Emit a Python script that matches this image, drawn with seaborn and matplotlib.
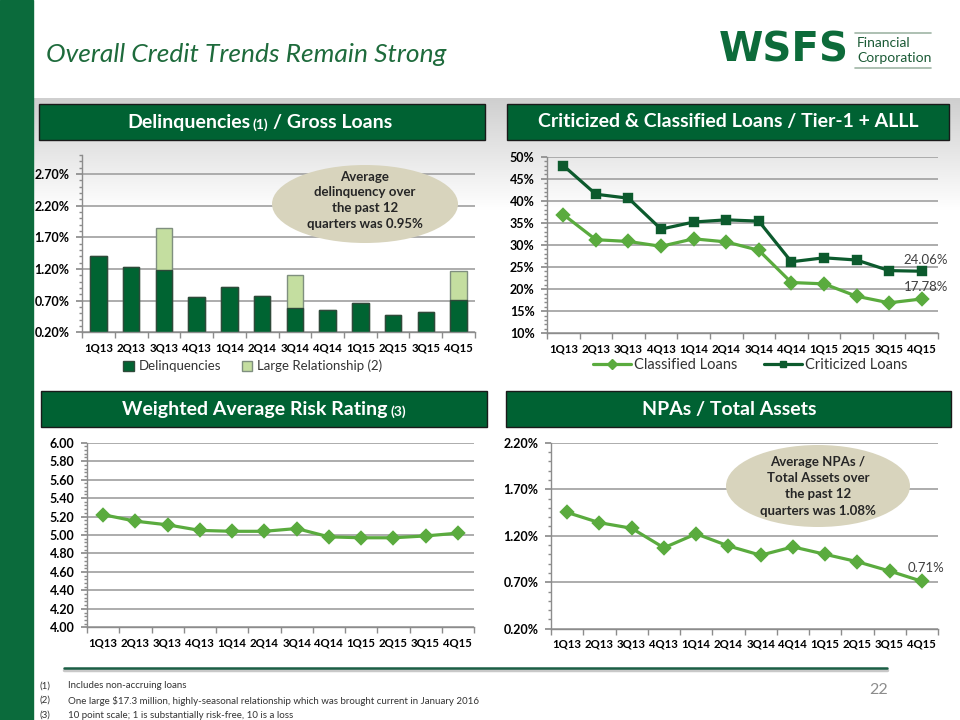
import numpy as np
import pandas as pd
import matplotlib.pyplot as plt
import seaborn as sns
from matplotlib.patches import Rectangle, Ellipse
from matplotlib.lines import Line2D
from matplotlib.ticker import FuncFormatter
from matplotlib.colors import LinearSegmentedColormap

# Dati
quarters = ["1Q13", "2Q13", "3Q13", "4Q13", "1Q14", "2Q14",
            "3Q14", "4Q14", "1Q15", "2Q15", "3Q15", "4Q15"]
delinquencies = [1.40, 1.23, 1.19, 0.76, 0.92, 0.77, 0.59, 0.55, 0.66, 0.48, 0.52, 0.71]
large_relationship = [0, 0, 0.66, 0, 0, 0, 0.51, 0, 0, 0, 0, 0.46]
classified = [36.9, 31.2, 30.8, 29.7, 31.4, 30.7, 28.8, 21.5, 21.2, 18.4, 16.9, 17.78]
criticized = [48.0, 41.5, 40.6, 33.6, 35.2, 35.7, 35.4, 26.2, 27.1, 26.6, 24.2, 24.06]
risk_rating = [5.22, 5.15, 5.11, 5.05, 5.04, 5.04, 5.07, 4.98, 4.97, 4.97, 4.99, 5.02]
npas = [1.45, 1.34, 1.28, 1.07, 1.22, 1.09, 0.99, 1.08, 1.00, 0.92, 0.82, 0.71]

footnotes = ["Includes non-accruing loans",
             "One large $17.3 million, highly-seasonal relationship which was brought current in January 2016",
             "10 point scale; 1 is substantially risk-free, 10 is a loss"]

DARK = "#006432"
LIGHT = "#5aab3e"
GRID = "#a6a6a6"
SPINE = "#8c8c8c"

sns.set_theme(style="white")
plt.rcParams['font.family'] = ['Lato', 'DejaVu Sans']

W, H = 960, 720
fig = plt.figure(figsize=(9.6, 7.2), dpi=100, facecolor="white")


def rect(l, t, r, b):
    return [l / W, 1 - b / H, (r - l) / W, (b - t) / H]


# Sfondo: barra verde a sinistra e fascia grigia sotto il titolo
bg = fig.add_axes([0, 0, 1, 1], zorder=0)
bg.axis('off')
grad = np.linspace(0, 1, 200)[:, None]
bg.imshow(grad, extent=(33, W, 210, 98), aspect='auto',
          cmap=LinearSegmentedColormap.from_list('g', ['#cfcfcf', '#ffffff']))
bg.add_patch(Rectangle((0, 0), 33, H, color="#0b6b3c"))
bg.imshow(grad, extent=(0, 33, 260, 98), aspect='auto',
          cmap=LinearSegmentedColormap.from_list('v', ['#004a28', '#0b6b3c']))
bg.set_xlim(0, W)
bg.set_ylim(H, 0)


def style(ax, ticks, minor, fmt):
    ax.set_facecolor("none")
    ax.set_xlim(-0.5, 11.5)
    ax.set_yticks(ticks)
    ax.set_yticks(minor, minor=True)
    ax.yaxis.set_major_formatter(FuncFormatter(fmt))
    ax.grid(axis='y', which='major', color=GRID, lw=1.3)
    ax.set_axisbelow(True)
    for s in ['top', 'right']:
        ax.spines[s].set_visible(False)
    for s in ['left', 'bottom']:
        ax.spines[s].set_color(SPINE)
        ax.spines[s].set_linewidth(1)
    ax.tick_params(axis='y', which='major', length=4, color=SPINE, labelsize=9,
                   left=True, pad=5, labelcolor='black')
    ax.tick_params(axis='y', which='minor', length=2.5, color=SPINE, left=True)
    ax.set_xticks(range(12))
    ax.set_xticklabels(quarters)
    ax.set_xticks(np.arange(-0.5, 12, 1), minor=True)
    ax.tick_params(axis='x', which='major', length=0, pad=7, labelsize=8.2, labelcolor='black')
    ax.tick_params(axis='x', which='minor', length=4, color=SPINE, bottom=True)
    for lbl in ax.get_xticklabels() + ax.get_yticklabels():
        lbl.set_fontweight('bold')
    ax.set_xlabel('')
    ax.set_ylabel('')


# Grafico 1: Delinquencies / Gross Loans
ax1 = fig.add_axes(rect(82, 155, 475, 332.3))
df1 = pd.DataFrame({'quarter': quarters,
                    'total': [d + l for d, l in zip(delinquencies, large_relationship)],
                    'delinq': delinquencies})
sns.barplot(data=df1, x='quarter', y='total', color="#c4dea0", edgecolor="#7f8f7f",
            linewidth=1, width=0.5, saturation=1, ax=ax1)
sns.barplot(data=df1, x='quarter', y='delinq', color=DARK, edgecolor="#2e4a3a",
            linewidth=1, width=0.5, saturation=1, ax=ax1)
style(ax1, np.arange(0.2, 2.71, 0.5), np.arange(0.2, 3.01, 0.1), lambda v, p: f"{v:.2f}%")
ax1.set_ylim(0.2, 3.0)
ax1.legend(handles=[Rectangle((0, 0), 1, 1, fc=DARK, ec="#2e4a3a"),
                    Rectangle((0, 0), 1, 1, fc="#c4dea0", ec="#7f8f7f")],
           labels=["Delinquencies", "Large Relationship (2)"],
           loc='center', bbox_to_anchor=(0.435, -0.19), ncol=2, frameon=False,
           fontsize=9.5, handlelength=0.8, handleheight=0.8, handletextpad=0.4,
           columnspacing=1.5, labelcolor="#333333")

# Grafico 2: Criticized & Classified
ax2 = fig.add_axes(rect(547, 156.7, 938, 333.3))
df2 = pd.DataFrame({'quarter': quarters * 2,
                    'value': classified + criticized,
                    'series': ['Classified Loans'] * 12 + ['Criticized Loans'] * 12})
sns.pointplot(data=df2, x='quarter', y='value', hue='series',
              palette={'Classified Loans': LIGHT, 'Criticized Loans': "#0c5a2d"},
              markers=['D', 's'], linestyles=['-', '-'], markersize=6, linewidth=2.3,
              errorbar=None, ax=ax2)
style(ax2, np.arange(10, 51, 5), np.arange(10, 51, 1), lambda v, p: f"{v:.0f}%")
ax2.set_ylim(10, 50)
ax2.legend(handles=[Line2D([], [], color=LIGHT, marker='D', lw=2.3, ms=5),
                    Line2D([], [], color="#0c5a2d", marker='s', lw=2.3, ms=5)],
           labels=["Classified Loans", "Criticized Loans"],
           loc='center', bbox_to_anchor=(0.52, -0.18), ncol=2, frameon=False,
           fontsize=10.5, handlelength=2.6, handletextpad=0.2, columnspacing=1.8,
           labelcolor="#333333")
ax2.annotate(f"{criticized[-1]:.2f}%", (11, criticized[-1]), xytext=(3, 4),
             textcoords='offset points', ha='center', va='bottom', fontsize=9.5, color="#404040")
ax2.annotate(f"{classified[-1]:.2f}%", (11, classified[-1]), xytext=(3, 4),
             textcoords='offset points', ha='center', va='bottom', fontsize=9.5, color="#404040")

# Grafico 3: Weighted Average Risk Rating
ax3 = fig.add_axes(rect(87, 442.7, 474, 627.3))
sns.pointplot(x=quarters, y=risk_rating, color=LIGHT, markers='D', markersize=6,
              linewidth=2.3, errorbar=None, ax=ax3)
style(ax3, np.arange(4.0, 6.01, 0.2), np.arange(4.0, 6.01, 0.04), lambda v, p: f"{v:.2f}")
ax3.set_ylim(4.0, 6.0)

# Grafico 4: NPAs / Total Assets
ax4 = fig.add_axes(rect(551, 442.7, 938, 628.7))
sns.pointplot(x=quarters, y=npas, color=LIGHT, markers='D', markersize=6,
              linewidth=2.3, errorbar=None, ax=ax4)
style(ax4, np.arange(0.2, 2.21, 0.5), np.arange(0.2, 2.21, 0.1), lambda v, p: f"{v:.2f}%")
ax4.set_ylim(0.2, 2.2)
ax4.annotate(f"{npas[-1]:.2f}%", (11, npas[-1]), xytext=(3, 5),
             textcoords='offset points', ha='center', va='bottom', fontsize=9.5, color="#404040")

# Livello sopra: titoli, riquadri, ellissi, note
ov = fig.add_axes([0, 0, 1, 1], zorder=5)
ov.set_xlim(0, W)
ov.set_ylim(H, 0)
ov.axis('off')
ov.set_facecolor("none")

ov.text(46, 54, "Overall Credit Trends Remain Strong", fontsize=19, fontstyle='italic',
        color="#1e6b3c", va='center', ha='left')

# Logo
ov.text(719, 50, "WSFS", fontsize=29, fontweight='bold', color="#0d6b3a",
        va='center', ha='left', family=['DejaVu Sans'])
ov.plot([855, 931], [33, 33], color="#9fb5a5", lw=1.2)
ov.plot([855, 931], [68, 68], color="#9fb5a5", lw=1.2)
ov.text(857, 43, "Financial", fontsize=10, color="#1a5a35", va='center', ha='left')
ov.text(857, 58, "Corporation", fontsize=10, color="#1a5a35", va='center', ha='left')

# Riquadri dei titoli
boxes = [(39, 104, 485, 140), (507, 104, 949, 140), (41, 391, 487, 427), (506, 391, 951, 427)]
for l, t, r, b in boxes:
    ov.add_patch(Rectangle((l, t), r - l, b - t, fc="#006233", ec="#1a1a1a", lw=1))


def box_title(x, y, main, note, rest=""):
    t1 = ov.text(x, y, main, fontsize=14, fontweight='bold', color='white',
                 va='baseline', ha='left')
    t2 = ov.annotate(note, xy=(1, 0), xycoords=t1, xytext=(2, 0), textcoords='offset points',
                     fontsize=10, fontweight='bold', color='white', va='bottom', ha='left')
    if rest:
        ov.annotate(rest, xy=(1, 0), xycoords=t2, xytext=(3, 0), textcoords='offset points',
                    fontsize=14, fontweight='bold', color='white', va='bottom', ha='left')


box_title(127, 128, "Delinquencies", "(1)", "/ Gross Loans")
ov.text(728, 122, "Criticized & Classified Loans / Tier-1 + ALLL", fontsize=14,
        fontweight='bold', color='white', va='center', ha='center')
box_title(122, 415, "Weighted Average Risk Rating", "(3)")
ov.text(729, 409, "NPAs / Total Assets", fontsize=14, fontweight='bold',
        color='white', va='center', ha='center')

# Ellissi con le medie
ov.add_patch(Ellipse((365, 204), 186, 78, fc="#d8d4bd", ec="none"))
for i, line in enumerate(["Average", "delinquency over", "the past 12", "quarters was 0.95%"]):
    ov.text(365, 177 + i * 15.5, line, fontsize=9.5, fontweight='bold', color="#262626",
            ha='center', va='center')
ov.add_patch(Ellipse((818, 486), 184, 82, fc="#d8d4bd", ec="none"))
for i, line in enumerate(["Average NPAs /", "Total Assets over", "the past 12", "quarters was 1.08%"]):
    ov.text(818, 462 + i * 16.2, line, fontsize=9.5, fontweight='bold', color="#262626",
            ha='center', va='center')

# Linea e note a pie' di pagina
ov.plot([64, 887], [670, 670], color="#c8c8c8", lw=2.5)
ov.plot([64, 887], [668, 668], color="#1b5e45", lw=1.8)
for i, txt in enumerate(footnotes):
    ov.text(40, 686 + i * 14.5, f"({i + 1})", fontsize=7, color="#333333", va='center')
    ov.text(68, 686 + i * 14.5, txt, fontsize=7, color="#333333", va='center')
ov.text(888, 690, "22", fontsize=11.5, color="#8c8c8c", va='center', ha='right')

fig.savefig("out.png", dpi=100, facecolor="white")
